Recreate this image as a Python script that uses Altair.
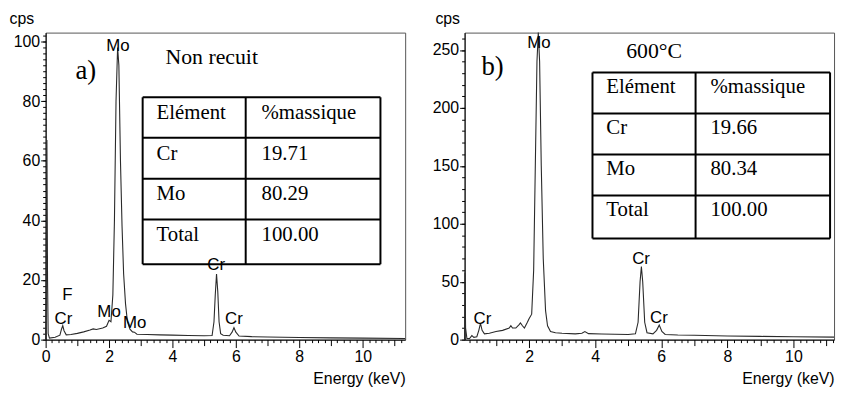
import altair as alt
import pandas as pd

# ---------------- data ----------------
# a) Non recuit
E_A = [0.00, 0.02, 0.04, 0.06, 0.08, 0.12, 0.30, 0.45, 0.50, 0.54,
       0.58, 0.65, 0.80, 1.00, 1.20, 1.40, 1.50, 1.60, 1.80, 1.92,
       2.00, 2.06, 2.12, 2.17, 2.22, 2.27, 2.31, 2.36, 2.41, 2.46,
       2.52, 2.58, 2.66, 2.74, 2.80, 2.88, 3.20, 3.60, 4.00, 4.50,
       5.00, 5.25, 5.31, 5.35, 5.39, 5.43, 5.47, 5.52, 5.60, 5.80,
       5.88, 5.94, 6.00, 6.10, 6.50, 7.00, 8.00, 9.00, 10.00, 11.34]
CPS_A = [0, 30, 67, 20, 2, 0.5, 0.8, 1.5, 3.5, 4.7,
         3.0, 1.6, 1.7, 2.1, 2.6, 3.2, 3.6, 3.4, 3.9, 4.5,
         6.5, 6, 15, 40, 80, 98, 92, 60, 38, 22,
         12, 6, 3.5, 2.6, 2.5, 1.8, 1.7, 1.6, 1.5, 1.4,
         1.3, 1.4, 6, 15, 22, 16, 6, 2, 1.5, 1.3,
         2.5, 4, 2.5, 1.2, 1.0, 0.9, 0.7, 0.6, 0.5, 0.4]

# b) 600°C
E_B = [0.05, 0.06, 0.08, 0.12, 0.20, 0.27, 0.33, 0.42, 0.48, 0.53,
       0.58, 0.65, 0.80, 1.00, 1.20, 1.40, 1.45, 1.50, 1.60, 1.70,
       1.74, 1.80, 1.86, 1.95, 2.00, 2.08, 2.14, 2.19, 2.24, 2.28,
       2.32, 2.37, 2.43, 2.50, 2.56, 2.65, 2.80, 3.00, 3.40, 3.60,
       3.69, 3.80, 4.20, 4.60, 5.00, 5.22, 5.30, 5.36, 5.40, 5.44,
       5.50, 5.57, 5.75, 5.86, 5.94, 6.02, 6.12, 6.50, 7.00, 8.00,
       9.00, 10.00, 11.23]
CPS_B = [0, 58, 10, 1, 1, 3.5, 2, 2.5, 8, 14,
         8, 5, 5.5, 7, 8, 10, 12, 10, 10, 13,
         14.5, 12, 10, 15, 18, 22, 60, 150, 240, 265,
         240, 150, 70, 25, 12, 7, 6, 5.5, 5, 5.5,
         7, 5.2, 4.8, 4.6, 4.5, 5, 15, 50, 63, 50,
         15, 6, 5, 8, 12.5, 7, 4.5, 4, 3.8, 3.2,
         2.8, 2.5, 2.2]

PEAK_A_LABELS = ["Mo", "F", "Cr", "Mo", "Mo", "Cr", "Cr"]
PEAK_A_E = [2.28, 0.69, 0.56, 2.00, 2.81, 5.38, 5.94]
PEAK_A_CPS = [96.7, 13.3, 5.3, 7.6, 4.0, 23.3, 5.3]

PEAK_B_LABELS = ["Mo", "Cr", "Cr", "Cr"]
PEAK_B_E = [2.30, 0.59, 5.39, 5.93]
PEAK_B_CPS = [252, 13.8, 65.6, 14.7]

TABLE_ELEMENTS = ["Elément", "Cr", "Mo", "Total"]
TABLE_A_VALUES = ["%massique", "19.71", "80.29", "100.00"]
TABLE_B_VALUES = ["%massique", "19.66", "80.34", "100.00"]

X_MAJOR = [0, 2, 4, 6, 8, 10]
Y_A_MAJOR = [0, 20, 40, 60, 80, 100]
Y_B_MAJOR = [0, 50, 100, 150, 200, 250]

# ---------------- layout (data coordinates) ----------------
LAYOUT_A = dict(
    xdom=[0, 11.34], ydom=[0, 103], width=363, height=310, ymajor=Y_A_MAJOR,
    tab_x=[3.06, 6.31, 10.56], tab_rows=[81.3, 67.7, 54.0, 40.3, 25.3],
    txt_x=[3.50, 6.81], txt_dy=7.3,
    label="a)", label_pos=(0.94, 87.4),
    heading="Non recuit", heading_pos=(3.78, 92.4),
    ytitle_x=-37, ytitle_y=-9, yminor_step=2,
)
LAYOUT_B = dict(
    xdom=[0.05, 11.23], ydom=[0, 265], width=373, height=310, ymajor=Y_B_MAJOR,
    tab_x=[3.92, 7.04, 11.11], tab_rows=[230.6, 195.2, 159.8, 124.4, 87.3],
    txt_x=[4.34, 7.49], txt_dy=18.0,
    label="b)", label_pos=(0.56, 228.8),
    heading="600°C", heading_pos=(4.94, 242.7),
    ytitle_x=-30, ytitle_y=-9, yminor_step=10,
)

SANS = "Liberation Sans"
SERIF = "Liberation Serif"


def panel(E, CPS, peaks, values, L):
    xs = alt.Scale(domain=L["xdom"], nice=False, zero=False)
    ys = alt.Scale(domain=L["ydom"], nice=False, zero=False)
    spec = pd.DataFrame({"E": E, "cps": CPS})

    x_minor = [round(i * 0.2, 1) for i in range(0, 60)
               if L["xdom"][0] <= round(i * 0.2, 1) <= L["xdom"][1]
               and round(i * 0.2, 1) % 2 != 0]
    y_minor = [v for v in range(0, int(L["ydom"][1]) + 1, L["yminor_step"])]

    line = alt.Chart(spec).mark_line(color="#2a2a2a", strokeWidth=1.1).encode(
        x=alt.X("E:Q", scale=xs, axis=alt.Axis(
            values=X_MAJOR, format="d", tickSize=8, labelPadding=1,
            orient="bottom", title="Energy (keV)", titleX=L["width"],
            titleY=44, titleAlign="right", titleBaseline="alphabetic")),
        y=alt.Y("cps:Q", scale=ys, axis=alt.Axis(
            values=L["ymajor"], format="d", tickSize=5, labelPadding=1,
            orient="left", title="cps", titleAngle=0, titleX=L["ytitle_x"],
            titleY=L["ytitle_y"], titleAlign="left",
            titleBaseline="alphabetic")),
    )

    minor = alt.Chart(spec).mark_point(opacity=0).encode(
        x=alt.X("E:Q", scale=xs, axis=alt.Axis(
            values=x_minor, labels=False, domain=False, orient="bottom",
            title=None,
            tickSize={"condition": {"test": "datum.value % 1 === 0", "value": 6},
                      "value": 3})),
        y=alt.Y("cps:Q", scale=ys, axis=alt.Axis(
            values=y_minor, labels=False, domain=False, orient="left",
            title=None, tickSize=3)),
    )

    lab, pe, pc = peaks
    pk = pd.DataFrame({"t": lab, "E": pe, "cps": pc})
    peak_txt = alt.Chart(pk).mark_text(
        font=SANS, fontSize=17, align="center", baseline="alphabetic",
        color="black").encode(
        x=alt.X("E:Q", scale=xs, axis=None),
        y=alt.Y("cps:Q", scale=ys, axis=None),
        text="t:N")

    tx = L["tab_x"]
    rows = L["tab_rows"]
    hl = pd.DataFrame({"x": [tx[0]] * len(rows), "x2": [tx[2]] * len(rows),
                       "y": rows, "y2": rows})
    vl = pd.DataFrame({"x": tx, "x2": tx, "y": [rows[-1]] * 3, "y2": [rows[0]] * 3})
    grid = pd.concat([hl, vl], ignore_index=True)
    tab_lines = alt.Chart(grid).mark_rule(color="black", strokeWidth=2).encode(
        x=alt.X("x:Q", scale=xs, axis=None), x2="x2:Q",
        y=alt.Y("y:Q", scale=ys, axis=None), y2="y2:Q")

    cells = []
    for i, (el, va) in enumerate(zip(TABLE_ELEMENTS, values)):
        yy = rows[i] - L["txt_dy"]
        cells.append({"x": L["txt_x"][0], "y": yy, "t": el})
        cells.append({"x": L["txt_x"][1], "y": yy, "t": va})
    cell_txt = alt.Chart(pd.DataFrame(cells)).mark_text(
        font=SERIF, fontSize=21, align="left", baseline="alphabetic",
        color="black").encode(
        x=alt.X("x:Q", scale=xs, axis=None),
        y=alt.Y("y:Q", scale=ys, axis=None),
        text="t:N")

    heads = pd.DataFrame({
        "x": [L["label_pos"][0], L["heading_pos"][0]],
        "y": [L["label_pos"][1], L["heading_pos"][1]],
        "t": [L["label"], L["heading"]],
        "s": [27, 22],
    })
    head_txt = alt.Chart(heads).mark_text(
        font=SERIF, align="left", baseline="alphabetic", color="black").encode(
        x=alt.X("x:Q", scale=xs, axis=None),
        y=alt.Y("y:Q", scale=ys, axis=None),
        text="t:N",
        size=alt.Size("s:Q", scale=None, legend=None))

    return alt.layer(line, minor, peak_txt, tab_lines, cell_txt, head_txt).resolve_axis(
        x="independent", y="independent").properties(
        width=L["width"], height=L["height"])


left = panel(E_A, CPS_A, (PEAK_A_LABELS, PEAK_A_E, PEAK_A_CPS), TABLE_A_VALUES, LAYOUT_A)
right = panel(E_B, CPS_B, (PEAK_B_LABELS, PEAK_B_E, PEAK_B_CPS), TABLE_B_VALUES, LAYOUT_B)

chart = alt.hconcat(left, right, spacing=22).properties(
    padding={"left": 0, "top": 0, "right": 0, "bottom": 0}
).configure_view(stroke="#555", strokeWidth=1).configure_axis(
    grid=False, labelFont=SANS, labelFontSize=16, labelColor="black",
    titleFont=SANS, titleFontSize=16, titleFontWeight="normal",
    titleColor="black", tickColor="black", domainColor="black",
    labelFlush=False, labelOverlap=False,
)

chart.save("out.html", embed_options={"renderer": "svg", "actions": False})
